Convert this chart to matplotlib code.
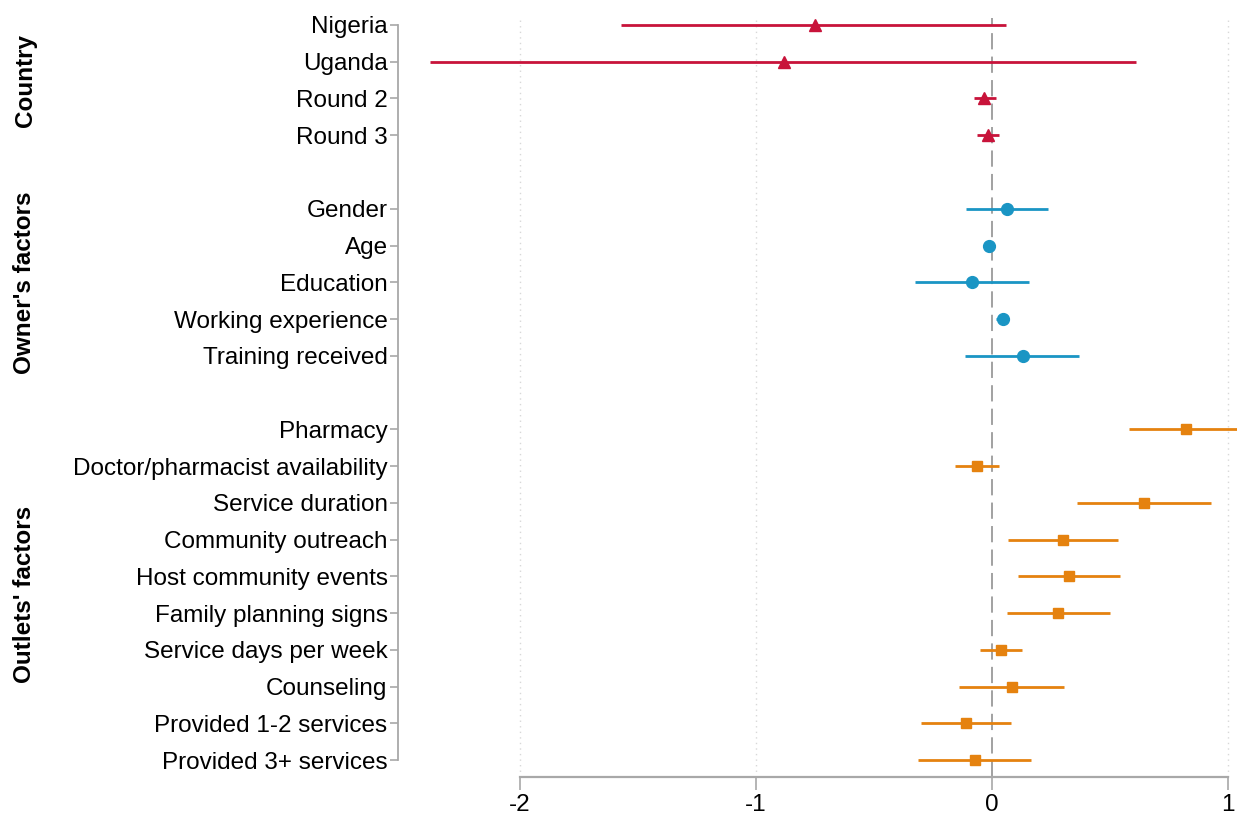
import numpy as np
import matplotlib
matplotlib.use("Agg")
import matplotlib.pyplot as plt
import matplotlib.transforms as mtransforms

plt.rcParams['font.family'] = ['Liberation Sans', 'DejaVu Sans']

# coefficient estimates and confidence intervals, one group per block
country_names = ["Nigeria", "Uganda", "Round 2", "Round 3"]
country_coef = [-0.75, -0.88, -0.032, -0.017]
country_lo = [-1.57, -2.38, -0.078, -0.062]
country_hi = [0.06, 0.61, 0.016, 0.031]

owner_names = ["Gender", "Age", "Education", "Working experience", "Training received"]
owner_coef = [0.065, -0.012, -0.085, 0.045, 0.13]
owner_lo = [-0.11, -0.02, -0.326, 0.017, -0.113]
owner_hi = [0.239, -0.004, 0.155, 0.072, 0.37]

outlet_names = ["Pharmacy", "Doctor/pharmacist availability", "Service duration",
                "Community outreach", "Host community events", "Family planning signs",
                "Service days per week", "Counseling", "Provided 1-2 services",
                "Provided 3+ services"]
outlet_coef = [0.824, -0.062, 0.644, 0.30, 0.326, 0.28, 0.037, 0.083, -0.109, -0.074]
outlet_lo = [0.579, -0.157, 0.359, 0.069, 0.111, 0.063, -0.049, -0.139, -0.299, -0.312]
outlet_hi = [1.08, 0.03, 0.926, 0.532, 0.542, 0.498, 0.125, 0.303, 0.081, 0.164]

group_titles = ["Country", "Owner's factors", "Outlets' factors"]
x_ticks = [-2, -1, 0, 1]

groups = [
    (country_names, country_coef, country_lo, country_hi, "#c8133a", "^", 8.5),
    (owner_names, owner_coef, owner_lo, owner_hi, "#1a95c4", "o", 8.5),
    (outlet_names, outlet_coef, outlet_lo, outlet_hi, "#e5820f", "s", 7.5),
]

fs = 17.5

fig = plt.figure(figsize=(12.37, 8.17), dpi=100)
ax = fig.add_axes([398 / 1237, 40 / 817, 839 / 1237, 759 / 817])

spine_col = "#a8a8a8"

# dotted grid and dashed zero line
for t in x_ticks:
    if t == 0:
        ax.axvline(t, color="#9a9a9a", lw=1.3, ls=(0, (9, 4)), zorder=1)
    else:
        ax.axvline(t, color="#d8d8d8", lw=1.0, ls=(0, (1, 3)), zorder=1)

ytick_pos = []
ytick_lab = []
pos = 0
trans = mtransforms.blended_transform_factory(fig.transFigure, ax.transData)
for (names, coef, lo, hi, col, mk, ms), title in zip(groups, group_titles):
    y = np.arange(pos, pos + len(names))
    ax.hlines(y, lo, hi, color=col, lw=2.0, zorder=3)
    ax.plot(coef, y, ls="none", marker=mk, color=col, ms=ms, zorder=4)
    ytick_pos.extend(y)
    ytick_lab.extend(names)
    fig.text(25 / 1237, y.mean(), title, transform=trans, rotation=90,
             ha="center", va="center", fontsize=fs, fontweight="bold")
    pos += len(names) + 1

ax.set_xlim(-2.517, 1.038)
ax.set_ylim(20.46, -0.19)

ax.set_yticks(ytick_pos)
ax.set_yticklabels(ytick_lab, fontsize=fs)
ax.set_xticks(x_ticks)
ax.set_xticklabels([str(t) for t in x_ticks], fontsize=fs)

for s in ["top", "right"]:
    ax.spines[s].set_visible(False)
ax.spines["left"].set_bounds(0, ytick_pos[-1])
ax.spines["bottom"].set_bounds(-2, 1)
ax.spines["left"].set_color(spine_col)
ax.spines["bottom"].set_color(spine_col)
ax.spines["left"].set_linewidth(1.3)
ax.spines["bottom"].set_linewidth(1.6)
ax.tick_params(axis="y", length=6, width=1.2, color=spine_col, pad=1.5)
ax.tick_params(axis="x", length=9, width=1.2, color=spine_col, pad=3)

fig.savefig("out.png", dpi=100)
